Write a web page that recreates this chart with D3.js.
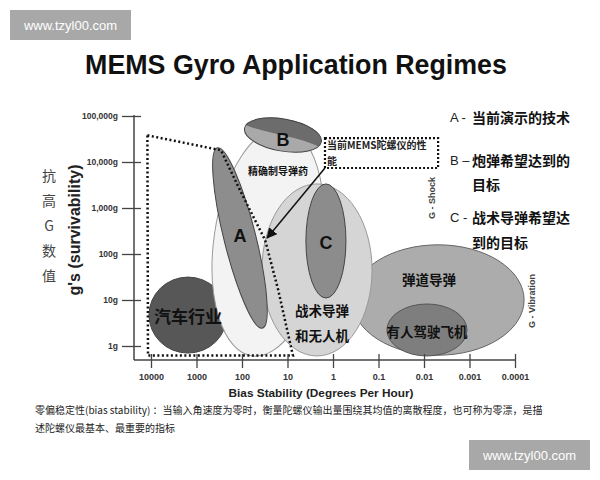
<!DOCTYPE html>
<html><head><meta charset="utf-8">
<script src="https://cdn.jsdelivr.net/npm/d3@7"></script>
<style>
body{margin:0;background:#fff;}
text{font-family:"Liberation Sans","Noto Sans CJK SC",sans-serif;}
.cjk{font-family:"Noto Sans CJK SC","Liberation Sans",sans-serif;}
</style></head>
<body><svg id="c" width="600" height="480"></svg>
<script>
// ---------- data ----------
const title = "MEMS Gyro Application Regimes";
const xTicks = [10000,1000,100,10,1,0.1,0.01,0.001,0.0001];
const xTickLabels = ["10000","1000","100","10","1","0.1","0.01","0.001","0.0001"];
const yTicks = [1,10,100,1000,10000,100000];
const yTickLabels = ["1g","10g","100g","1,000g","10,000g","100,000g"];
const xTitle = "Bias Stability (Degrees Per Hour)";
const yTitle = "g's (survivability)";
const yTitleCn = ["抗","高","G","数","值"];
// regions: centre (bias, g), half-extent in decades, tilt
const regionNames = ["car","ballistic","precision","tactical","A","B","Cinner","manned"];
const regionBias  = [1540, 0.0049, 26.8, 2.25, 111, 12.6, 1.43, 0.0086];
const regionG     = [4.7, 10, 182, 45, 223, 38600, 192, 2.23];
const regionRxDec = [0.857, 1.89, 1.19, 1.21, 0.35, 0.857, 0.44, 0.88];
const regionRyDec = [0.826, 1.2, 2.5, 1.87, 2.02, 0.35, 1.24, 0.565];
const regionTilt  = [0, 0, 8, 0, -14, 10, 0, 0];
// labels inside the chart
const labelText = ["汽车行业","精确制导弹药","战术导弹","和无人机","弹道导弹","有人驾驶飞机","A","B","C"];
const labelBias = [1540, 16.2, 1.75, 1.75, 0.0078, 0.0086, 111, 12.6, 1.43];
const labelG    = [4.5, 6700, 6.1, 1.73, 28.6, 2.12, 250, 30000, 170];
// dotted "current MEMS" boundary
const boundBias = [12000, 290, 110, 31, 16, 7.6, 11650];
const boundG    = [38000, 18000, 2400, 200, 16.5, 0.62, 0.62];
// callout box and arrow
const calloutBias = [1.5, 0.0049];
const calloutG = [33000, 7400];
const calloutLines = ["当前MEMS陀螺仪的性","能"];
const arrowTarget = [28, 223];
const legendLines = [
  {key:"A -", text:"当前演示的技术"},
  {key:"B –", text:"炮弹希望达到的"},
  {key:"",    text:"目标"},
  {key:"C -", text:"战术导弹希望达"},
  {key:"",    text:"到的目标"}];
const captionLines = ["零偏稳定性(bias stability) ：当输入角速度为零时，衡量陀螺仪输出量围绕其均值的离散程度，也可称为零漂，是描",
                      "述陀螺仪最基本、最重要的指标"];
const watermark = "www.tzyl00.com";

// ---------- styles ----------
const fills = {car:"#575757",ballistic:"#acacac",precision:"#f3f3f3",tactical:"#d5d5d5",A:"#8d8d8d",B:"#a9a9a9",Cinner:"#8c8c8c",manned:"#7e7e7e"};
const strokes = {car:"#444",ballistic:"#666",precision:"#999",tactical:"#999",A:"#444",B:"#444",Cinner:"#444",manned:"#555"};

const svg = d3.select("#c");
const x = d3.scaleLog().domain([10000,0.0001]).range([151,515]);
const y = d3.scaleLog().domain([1,100000]).range([346,116]);
const pxPerDecX = Math.abs(x(10)-x(1));
const pxPerDecY = Math.abs(y(10)-y(1));

// watermarks
function wm(x0,y0){
  svg.append("rect").attr("x",x0).attr("y",y0).attr("width",121).attr("height",30).attr("fill","#a8a8a8");
  svg.append("text").attr("x",x0+60.5).attr("y",y0+15).attr("text-anchor","middle").attr("dominant-baseline","central")
    .attr("fill","#fff").attr("font-size",13).text(watermark);
}
wm(10,10); wm(469,440);

// title
svg.append("text").attr("x",296).attr("y",74).attr("text-anchor","middle").attr("font-size",26.8)
  .attr("font-weight","bold").attr("fill","#111").text(title);

// regions
const defs = svg.append("defs");
defs.append("marker").attr("id","ah").attr("viewBox","0 0 10 10").attr("refX",9).attr("refY",5)
  .attr("markerWidth",7).attr("markerHeight",7).attr("orient","auto")
  .append("path").attr("d","M0,0L10,5L0,10z").attr("fill","#111");

const g = svg.append("g");
regionNames.forEach((n,i)=>{
  const cx = x(regionBias[i]), cy = y(regionG[i]);
  const rx = regionRxDec[i]*pxPerDecX, ry = regionRyDec[i]*pxPerDecY;
  const gg = g.append("g").attr("transform",`translate(${cx},${cy}) rotate(${regionTilt[i]})`);
  if(n==="B"){
    defs.append("clipPath").attr("id","bclip").append("ellipse").attr("rx",rx).attr("ry",ry);
    gg.append("ellipse").attr("rx",rx).attr("ry",ry).attr("fill",fills.B);
    gg.append("path").attr("clip-path","url(#bclip)").attr("fill","#6c6c6c")
      .attr("d",`M${-rx-5},${-5} C${-rx/2},${3} ${rx/3},${-3} ${rx+5},${7} L${rx+5},${-ry-5} L${-rx-5},${-ry-5}Z`);
    gg.append("ellipse").attr("rx",rx).attr("ry",ry).attr("fill","none").attr("stroke",strokes.B).attr("stroke-width",1);
  } else {
    gg.append("ellipse").attr("rx",rx).attr("ry",ry).attr("fill",fills[n]).attr("stroke",strokes[n]).attr("stroke-width",1);
  }
});

// dotted boundary
const bpts = boundBias.map((b,i)=>[x(b),y(boundG[i])]);
svg.append("path").attr("d",d3.line()(bpts)+"Z").attr("fill","none").attr("stroke","#111")
  .attr("stroke-width",2.5).attr("stroke-dasharray","2,2.5");

// callout
const cbx0 = x(calloutBias[0]), cbx1 = x(calloutBias[1]), cby0 = y(calloutG[0]), cby1 = y(calloutG[1]);
svg.append("rect").attr("x",cbx0).attr("y",cby0).attr("width",cbx1-cbx0).attr("height",cby1-cby0)
  .attr("fill","#fff").attr("stroke","#111").attr("stroke-width",2.2).attr("stroke-dasharray","2,2");
calloutLines.forEach((t,i)=>{
  svg.append("text").attr("class","cjk").attr("x",cbx0+2).attr("y",cby0+11+i*16).attr("font-size",10)
    .attr("font-weight","bold").attr("fill","#222").text(t);
});
svg.append("line").attr("x1",cbx0).attr("y1",cby1).attr("x2",x(arrowTarget[0])).attr("y2",y(arrowTarget[1]))
  .attr("stroke","#111").attr("stroke-width",1.5).attr("marker-end","url(#ah)");

// labels
labelText.forEach((t,i)=>{
  const big = ["A","B","C"].includes(t);
  const small = t==="精确制导弹药";
  const sz = big?18:(small?10:(t==="汽车行业"?17:13.5));
  svg.append("text").attr("class","cjk").attr("x",x(labelBias[i])).attr("y",y(labelG[i]))
    .attr("text-anchor","middle").attr("dominant-baseline","central")
    .attr("font-size",sz).attr("font-weight","bold").attr("fill","#111")
    .style("font-family", big?"Liberation Sans":null).text(t);
});

// axes
const axisColor = "#444";
svg.append("line").attr("x1",134).attr("x2",134).attr("y1",115).attr("y2",360).attr("stroke",axisColor).attr("stroke-width",1.5);
svg.append("line").attr("x1",134).attr("x2",515).attr("y1",360).attr("y2",360).attr("stroke",axisColor).attr("stroke-width",1.5);

const ya = svg.append("g").attr("transform","translate(134,0)")
  .call(d3.axisLeft(y).tickValues(yTicks).tickFormat((d,i)=>yTickLabels[i]).tickSize(12).tickPadding(4));
ya.select(".domain").remove();
ya.selectAll(".tick line").attr("x1",7).attr("stroke",axisColor).attr("stroke-width",1.3);
ya.selectAll(".tick text").attr("font-size",8.5).attr("font-weight","bold").attr("fill","#333")
  .style("font-family","Liberation Sans");

const xa = svg.append("g").attr("transform","translate(0,360)")
  .call(d3.axisBottom(x).tickValues(xTicks).tickFormat((d,i)=>xTickLabels[i]).tickSize(8).tickPadding(6));
xa.select(".domain").remove();
xa.selectAll(".tick line").attr("y1",-6).attr("stroke",axisColor).attr("stroke-width",1.3);
xa.selectAll(".tick text").attr("font-size",9).attr("font-weight","bold").attr("fill","#333")
  .style("font-family","Liberation Sans");

svg.append("text").attr("x",321).attr("y",397).attr("text-anchor","middle").attr("font-size",11.8)
  .attr("font-weight","bold").attr("fill","#222").text(xTitle);
svg.append("text").attr("transform","translate(80,230) rotate(-90)").attr("text-anchor","middle")
  .attr("font-size",16).attr("font-weight","bold").attr("fill","#222").text(yTitle);
yTitleCn.forEach((t,i)=>{
  svg.append("text").attr("class","cjk").attr("x",49).attr("y",175+i*25).attr("text-anchor","middle")
    .attr("dominant-baseline","central").attr("font-size",14).attr("fill","#444").text(t);
});

// G - Shock / G - Vibration
svg.append("text").attr("transform","translate(435,198) rotate(-90)").attr("text-anchor","middle")
  .attr("font-size",9).attr("font-weight","bold").attr("fill","#444").text("G - Shock");
svg.append("text").attr("transform","translate(535,301) rotate(-90)").attr("text-anchor","middle")
  .attr("font-size",9).attr("font-weight","bold").attr("fill","#444").text("G - Vibration");

// legend
const legY = [117,160,184,217,242];
legendLines.forEach((l,i)=>{
  if(l.key) svg.append("text").attr("x",450).attr("y",legY[i]).attr("dominant-baseline","central")
     .attr("font-size",13).attr("fill","#222").text(l.key);
  svg.append("text").attr("class","cjk").attr("x",472).attr("y",legY[i]).attr("dominant-baseline","central")
     .attr("font-size",14).attr("font-weight","bold").attr("fill","#111").text(l.text);
});

// caption
captionLines.forEach((t,i)=>{
  svg.append("text").attr("class","cjk").attr("x",35).attr("y",414+i*18).attr("font-size",10)
    .attr("fill","#222").text(t);
});
</script></body></html>
